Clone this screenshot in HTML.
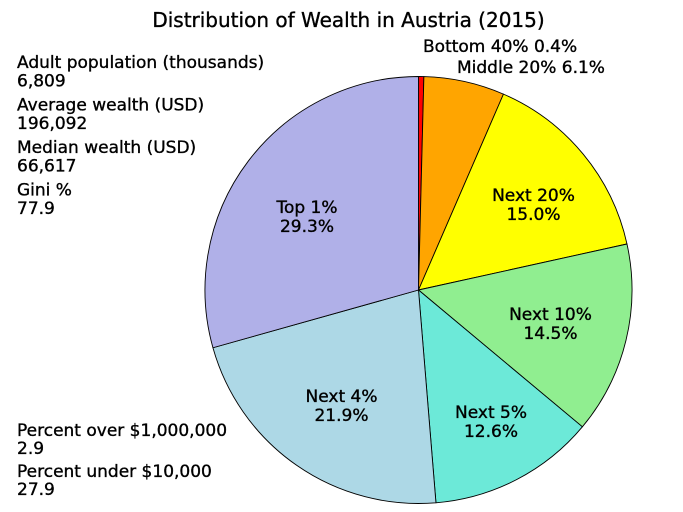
<!DOCTYPE html>
<html>
<head>
<meta charset="utf-8">
<style>
  html, body { margin:0; padding:0; background:#fff; }
  svg { display:block; }
  text { font-family: "DejaVu Sans", "Liberation Sans", sans-serif; fill:#000; stroke:#000; stroke-width:0.35; }
</style>
</head>
<body>
<svg width="683" height="512" viewBox="0 0 683 512" xmlns="http://www.w3.org/2000/svg">
  <rect width="683" height="512" fill="#fff"/>
  <text x="348.5" y="27" font-size="20" text-anchor="middle">Distribution of Wealth in Austria (2015)</text>

  <g stroke="#000" stroke-width="0.9" stroke-linejoin="round">
    <path d="M418.5,290 L418.5,76.5 A213.5,213.5 0 0 1 423.88,76.57 Z" fill="#ff0000"/>
    <path d="M418.5,290 L423.88,76.57 A213.5,213.5 0 0 1 503.45,94.13 Z" fill="#ffa500"/>
    <path d="M418.5,290 L503.45,94.13 A213.5,213.5 0 0 1 626.98,244.00 Z" fill="#ffff00"/>
    <path d="M418.5,290 L626.98,244.00 A213.5,213.5 0 0 1 582.38,426.84 Z" fill="#90ee90"/>
    <path d="M418.5,290 L582.38,426.84 A213.5,213.5 0 0 1 435.96,502.78 Z" fill="#6ce9d8"/>
    <path d="M418.5,290 L435.96,502.78 A213.5,213.5 0 0 1 212.94,347.75 Z" fill="#add8e6"/>
    <path d="M418.5,290 L212.94,347.75 A213.5,213.5 0 0 1 418.5,76.5 Z" fill="#b0b0e8"/>
  </g>

  <g font-size="17" text-anchor="middle">
    <text x="307" y="213">Top 1%</text>
    <text x="307" y="232">29.3%</text>
    <text x="533.5" y="201">Next 20%</text>
    <text x="533.5" y="220">15.0%</text>
    <text x="550.5" y="320">Next 10%</text>
    <text x="550.5" y="339">14.5%</text>
    <text x="341.5" y="402">Next 4%</text>
    <text x="341.5" y="421">21.9%</text>
    <text x="491" y="418">Next 5%</text>
    <text x="491" y="437">12.6%</text>
  </g>

  <g font-size="17">
    <text x="423" y="52">Bottom 40% 0.4%</text>
    <text x="457" y="73">Middle 20% 6.1%</text>

    <text x="17" y="68">Adult population (thousands)</text>
    <text x="17" y="86.5">6,809</text>
    <text x="17" y="110.5">Average wealth (USD)</text>
    <text x="17" y="129">196,092</text>
    <text x="17" y="153">Median wealth (USD)</text>
    <text x="17" y="171.5">66,617</text>
    <text x="17" y="195.5">Gini %</text>
    <text x="17" y="214">77.9</text>

    <text x="17" y="436">Percent over $1,000,000</text>
    <text x="17" y="454">2.9</text>
    <text x="17" y="477">Percent under $10,000</text>
    <text x="17" y="495">27.9</text>
  </g>
</svg>
</body>
</html>
